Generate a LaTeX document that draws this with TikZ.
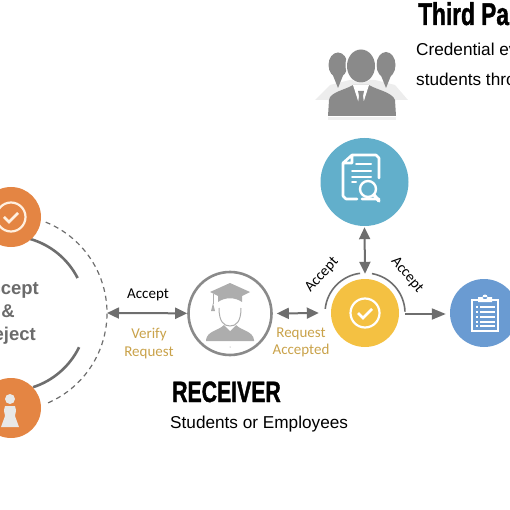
\documentclass[tikz,border=0pt]{standalone}
\usepackage{fontspec}
\setmainfont{Liberation Sans}
\newfontfamily\labelfont{Carlito}
\newfontfamily\headfont[FakeStretch=0.72, FakeBold=1.2]{Liberation Sans Bold}
\usetikzlibrary{arrows.meta, positioning, calc}
\definecolor{cgrey}{HTML}{6E6E6E}
\definecolor{cicon}{HTML}{8A8A8A}
\definecolor{corange}{HTML}{E48543}
\definecolor{cyellow}{HTML}{F4C142}
\definecolor{cteal}{HTML}{62AFCB}
\definecolor{cblue}{HTML}{6A9BD2}
\definecolor{cgold}{HTML}{C9A24A}
\tikzset{
  disc/.style={circle, fill=#1, inner sep=0pt},
  link/.style={{Triangle[length=12pt, width=11pt]}-{Triangle[length=12pt, width=11pt]}, draw=cgrey, line width=2pt},
  linkone/.style={-{Triangle[length=14pt, width=11pt]}, draw=cgrey, line width=2pt},
  ringline/.style={draw=cgrey, line width=2.6pt},
  head/.style={font=\headfont\fontsize{#1}{#1}\selectfont, anchor=base west, inner sep=0pt},
  body/.style={font=\fontsize{17.2}{17.2}\selectfont, anchor=base west, inner sep=0pt},
  tag/.style={font=\labelfont\fontsize{15}{15}\selectfont, inner sep=0pt},
  gold/.style={tag, text=cgold, align=center},
  checkicon/.pic={
    \draw[#1, line width=2.2pt] (0,0) circle (14.5);
    \draw[#1, line width=2.8pt] (-7,0) -- (-2,-5) -- (7,4);
  },
}

\begin{document}
\begin{tikzpicture}[x=1pt, y=1pt]
  \useasboundingbox (0,-510) rectangle (510,0);
  \clip (0,-510) rectangle (510,0);

  % left ring
  \coordinate (hub) at (9,-313);
  \coordinate (ringend) at (107,-313);
  \draw[cgrey, line width=1.2pt, dash pattern=on 5pt off 4pt] ([shift={(68:98)}]hub) arc (68:-68:98);
  \draw[ringline] ([shift={(74:77)}]hub) arc (74:27:77);
  \draw[ringline] ([shift={(-72:78)}]hub) arc (-72:-26:78);
  \node[disc=corange, minimum size=60pt] (top) at (11,-217) {};
  \node[disc=corange, minimum size=60pt] (low) at (11,-408) {};
  \pic at (top) {checkicon={white!88!orange}};
  \fill[black!9] (10,-399) circle (5)
    (5,-406) -- (15,-406) .. controls (17,-411) and (15,-414) .. (15,-416) -- (19,-427) -- (1,-427) -- (5,-416) .. controls (5,-414) and (3,-411) .. (5,-406) -- cycle;
  \node[font=\bfseries\fontsize{18.5}{23}\selectfont, text=black!58, align=center] (ringtext) at (8,-313) {Accept\\\&\\Reject};

  % main row
  \node[circle, draw=cicon, line width=2.6pt, minimum size=83pt, inner sep=0pt] (receiver) at (230,-313.5) {};
  \node[disc=cyellow, minimum size=68pt] (accept) at (365,-313) {};
  \node[disc=cteal, minimum size=88pt] (verify) at (364.5,-182) {};
  \node[disc=cblue, minimum size=68pt] (report) at (484,-313) {};
  \pic at (accept) {checkicon=white};

  % arcs round the yellow disc
  \draw[cgrey, line width=1.6pt] ([shift={(174:40)}]accept.center) arc (174:97:40);
  \draw[cgrey, line width=1.6pt] ([shift={(80:40)}]accept.center) arc (80:2:40);

  % connectors
  \draw[link] (ringend) -- (receiver);
  \draw[link] ($(receiver.east)+(4,0)$) -- ($(accept.west)+(-12,0)$);
  \draw[link] ($(verify.south)+(0,-1)$) -- ($(accept.north)+(0,5)$);
  \draw[linkone] ($(accept.east)+(6,-1)$) -- ($(report.west)+(-4,-1)$);

  % labels
  \node[tag] (acceptleft) at (148,-295) {Accept};
  \node[gold] (verifyreq) at (149,-343.5) {Verify\\[3pt]Request};
  \node[gold] (reqacc) at (301,-342.5) {Request\\[2pt]Accepted};
  \node[tag, rotate=48] (acceptup) at (322,-275) {Accept};
  \node[tag, rotate=-50] (acceptdown) at (407,-275) {Accept};

  % headings
  \node[head=29.5] (receivertitle) at (172,-402) {RECEIVER};
  \node[body] (receivertext) at (170,-428) {Students or Employees};
  \node[head=31.5] (thirdtitle) at (418,-25) {Third Pa};
  \node[body] (thirdone) at (416,-55.5) {Credential ev};
  \node[body] (thirdtwo) at (416,-85.5) {students thro};

  % people icon
  \fill[black!7] (315,-100) -- (330,-85) -- (350,-80) -- (375,-80) -- (395,-85) -- (408,-100) -- cycle;
  \fill[cicon] (338,-65) ellipse (9.5 and 12.5) (386,-65) ellipse (9.5 and 13);
  \fill[cicon] (332,-73) -- (344,-73) -- (338,-88) -- cycle (380,-73) -- (392,-73) -- (386,-88) -- cycle;
  \fill[white] (361,-65) ellipse (15.5 and 18);
  \fill[cicon] (361,-66) ellipse (14 and 16.5);
  \fill[cicon] (328,-116) -- (329,-100) .. controls (330,-92) and (345,-90) .. (353,-85) -- (369,-85) .. controls (377,-90) and (392,-92) .. (395,-100) -- (396,-116) -- cycle;
  \fill[white] (353,-85) -- (369,-85) -- (361,-110) -- cycle;
  \fill[cicon] (358,-91) -- (364,-91) -- (363,-96) -- (365,-110) -- (361,-115) -- (357,-110) -- (359,-96) -- cycle;
  \fill[black!6] (328,-117) rectangle (396,-120);

  % document with lens
  \begin{scope}[white, line width=2.6pt, line cap=round, line join=round]
    \draw (352,-155) -- (376,-155) -- (379,-158) -- (379,-178) (379,-199) -- (362,-199) (357,-199) -- (346,-199) -- (343,-196) -- (343,-163) -- (352,-155) -- (352,-163) -- (343,-163);
    \draw[line width=2pt] (356,-164) -- (371,-164) (352,-171) -- (371,-171) (352,-177) -- (371,-177) (352,-182) -- (356,-182);
    \draw[line width=2.4pt] (368,-189) circle (8);
    \draw[line width=3.4pt] (374,-195) -- (379,-201);
  \end{scope}

  % clipboard
  \begin{scope}[white]
    \draw[line width=1.4pt] (472,-300) rectangle (498,-331);
    \fill (478,-302) rectangle (492,-297) (485,-297) circle (2.5);
    \foreach \y in {-307,-312,-317,-322,-326} {
      \fill (476,\y-0.6) rectangle (478,\y+0.6);
      \fill (480,\y-0.6) rectangle (495,\y+0.6);
    }
  \end{scope}

  % graduate icon
  \fill[black!32] (206,-340) .. controls (207,-331) and (218,-331) .. (224,-325) -- (236,-325) .. controls (242,-331) and (253,-331) .. (254,-340) -- (254,-341) -- (206,-341) -- cycle;
  \fill[white] (224,-325) -- (236,-325) -- (230,-331) -- cycle;
  \fill[white] (230,-312) ellipse (11 and 14);
  \draw[black!32, line width=1pt] (219,-308) .. controls (219,-322) and (224,-326) .. (230,-326) .. controls (236,-326) and (241,-322) .. (241,-308);
  \fill[black!32] (210,-292) -- (230,-283) -- (250,-292) -- (242,-296) -- (242,-302) .. controls (235,-297) and (225,-297) .. (218,-302) -- (218,-296) -- cycle;
  \draw[black!32, line width=0.8pt] (213,-294) -- (213,-304);
  \fill[black!32] (213,-303) -- (215,-311) -- (211,-311) -- cycle;
  \fill[black!45] (230,-347) circle (0.5);
\end{tikzpicture}
\end{document}
